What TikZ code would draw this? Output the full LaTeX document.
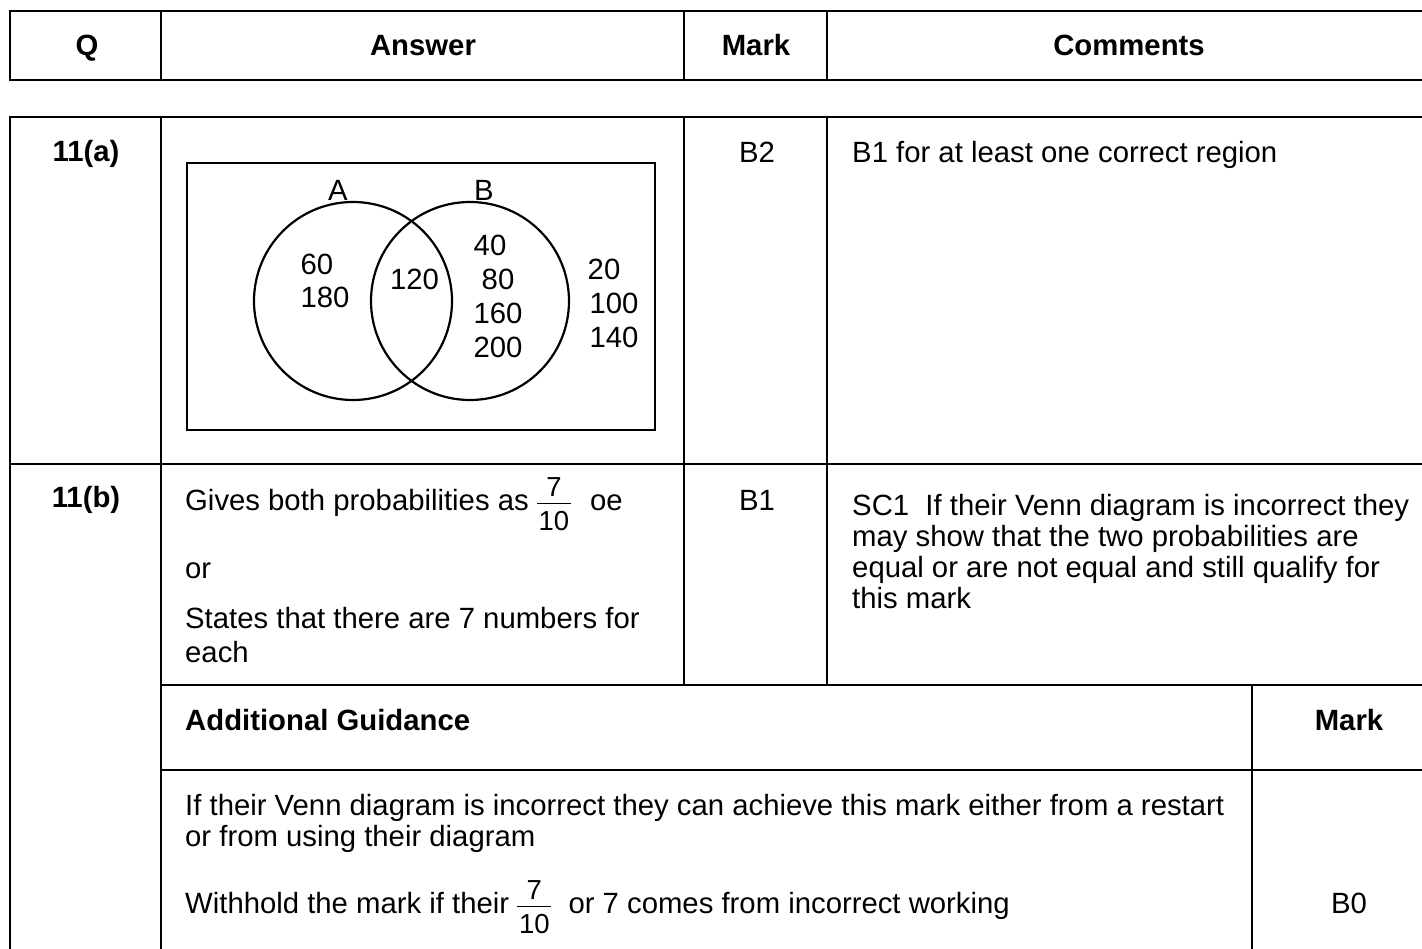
\documentclass[tikz,border=0pt]{standalone}
\usepackage{fontspec}
\setmainfont{Liberation Sans}
\newcommand\myfr[2]{{\fontsize{27.5}{27.5}\selectfont\hbox to 34pt{\rlap{\hbox to 34pt{\hss\raisebox{13.5pt}{#1}\hss}}\rlap{\hbox to 34pt{\hss\raisebox{-20.5pt}{#2}\hss}}\raisebox{6.2pt}{\rule{34pt}{1.3pt}}\hss}}}
\tikzset{
  txt/.style={font=\fontsize{29.3}{31}\selectfont, inner sep=0pt},
  bld/.style={font=\fontsize{29.3}{31}\selectfont\bfseries, inner sep=0pt},
  rl/.style={line width=2.2pt, line cap=rect},
  venn/.style={line width=2.2pt},
}
\begin{document}
\begin{tikzpicture}[x=1pt,y=-1pt]
\useasboundingbox (0,0) rectangle (1422,949);
% header table
\draw[rl] (1430,11) -- (10,11) -- (10,80) -- (1430,80);
\draw[rl] (161,11) -- (161,80);
\draw[rl] (684,11) -- (684,80);
\draw[rl] (827,11) -- (827,80);
\node[bld, anchor=base] (hq) at (87,56) {Q};
\node[bld, anchor=base] (ha) at (423,56) {Answer};
\node[bld, anchor=base] (hm) at (756,56) {Mark};
\node[bld, anchor=base] (hc) at (1129,56) {Comments};
% body table
\draw[rl] (1430,117) -- (10,117) -- (10,960);
\draw[rl] (161,117) -- (161,960);
\draw[rl] (684,117) -- (684,685);
\draw[rl] (827,117) -- (827,685);
\draw[rl] (10,464) -- (1430,464);
\draw[rl] (161,685) -- (1430,685);
\draw[rl] (161,770) -- (1430,770);
\draw[rl] (1252,685) -- (1252,960);
% row 11(a)
\node[bld, anchor=base] (qa) at (86,162) {11(a)};
\node[txt, anchor=base] (ma) at (757,163) {B2};
\node[txt, anchor=base west] (ca) at (852,163) {B1 for at least one correct region};
% venn
\draw[line width=1.5pt] (187,163) rectangle (655,430);
\draw[venn] (353,301) circle (99);
\draw[venn] (470,301) circle (99);
\node[txt, anchor=base] (la) at (338,201) {A};
\node[txt, anchor=base] (lb) at (484,201) {B};
\node[txt, anchor=base] (n60) at (317,275) {60};
\node[txt, anchor=base] (n180) at (325,308) {180};
\node[txt, anchor=base] (n120) at (414.5,290) {120};
\node[txt, anchor=base] (n40) at (490,256) {40};
\node[txt, anchor=base] (n80) at (498,290) {80};
\node[txt, anchor=base] (n160) at (498,324) {160};
\node[txt, anchor=base] (n200) at (498,358) {200};
\node[txt, anchor=base] (n20) at (604,280) {20};
\node[txt, anchor=base] (n100) at (614,314) {100};
\node[txt, anchor=base] (n140) at (614,348) {140};
% row 11(b)
\node[bld, anchor=base] (qb) at (86,507) {11(b)};
\node[txt, anchor=base west] (ab1) at (185,510) {Gives both probabilities as \myfr{7}{10}\hspace{11pt} oe};
\node[txt, anchor=base west] (ab2) at (185,578) {or};
\node[txt, anchor=base west] (ab3) at (185,628) {States that there are 7 numbers for};
\node[txt, anchor=base west] (ab4) at (185,662) {each};
\node[txt, anchor=base] (mb) at (757,510) {B1};
\node[txt, anchor=base west] (cb1) at (852,515) {SC1\ \ If their Venn diagram is incorrect they};
\node[txt, anchor=base west] (cb2) at (852,546) {may show that the two probabilities are};
\node[txt, anchor=base west] (cb3) at (852,577) {equal or are not equal and still qualify for};
\node[txt, anchor=base west] (cb4) at (852,608) {this mark};
% additional guidance
\node[bld, anchor=base west] (ag) at (185,730) {Additional Guidance};
\node[bld, anchor=base] (agm) at (1349,730) {Mark};
\node[txt, anchor=base west] (g1) at (185,815) {If their Venn diagram is incorrect they can achieve this mark either from a restart};
\node[txt, anchor=base west] (g2) at (185,846) {or from using their diagram};
\node[txt, anchor=base west] (g3) at (185,913) {Withhold the mark if their \myfr{7}{10}\hspace{9pt} or 7 comes from incorrect working};
\node[txt, anchor=base] (gm) at (1349,913) {B0};
\end{tikzpicture}
\end{document}
